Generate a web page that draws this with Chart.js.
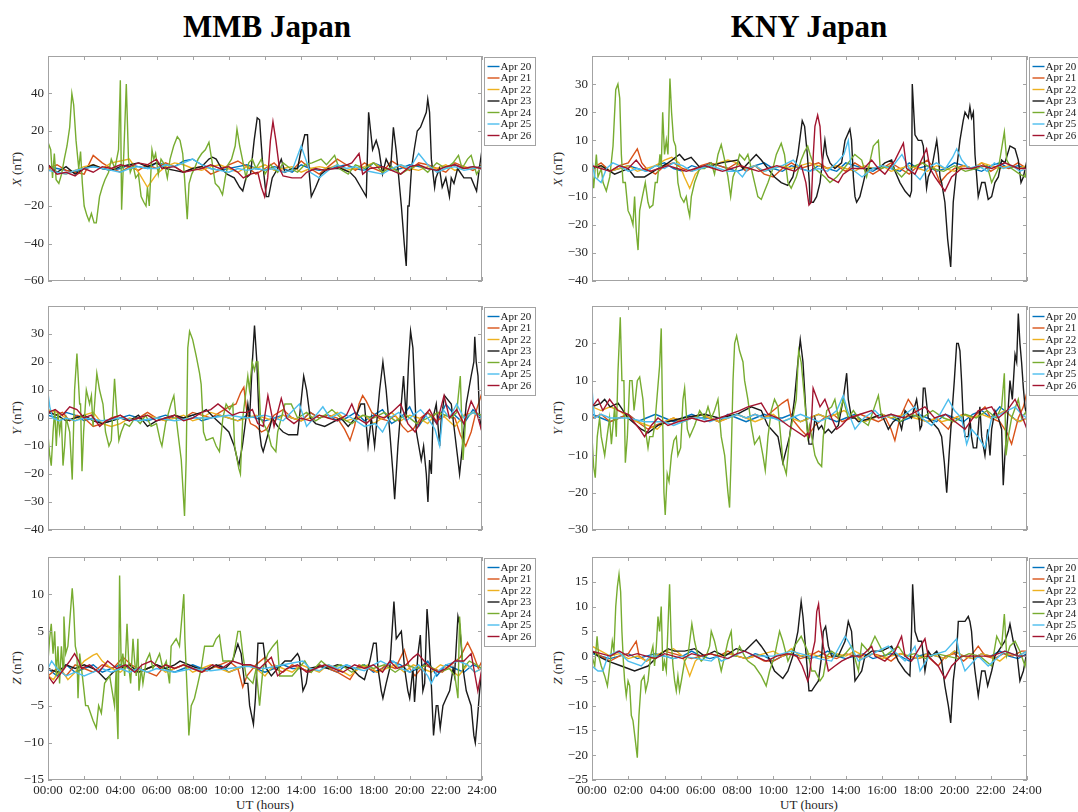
<!DOCTYPE html>
<html>
<head>
<meta charset="utf-8">
<script src="https://cdn.jsdelivr.net/npm/chart.js@4.4.1/dist/chart.umd.min.js"></script>
<style>
  html, body { margin: 0; padding: 0; background: #fff; }
  body { width: 1078px; height: 812px; position: relative; overflow: hidden;
         font-family: "Liberation Serif", "Times New Roman", serif; color: #000; }
  canvas.panel { position: absolute; }
  .title { position: absolute; top: 9px; width: 400px; text-align: center;
           font-size: 31px; font-weight: bold; line-height: 36px; }
  .ylab { position: absolute; font-size: 13px; white-space: nowrap; color: #262626;
          transform: translate(-50%, -50%) rotate(-90deg); }
  .xlab { position: absolute; font-size: 13px; white-space: nowrap; color: #262626;
          transform: translate(-50%, -50%); }
</style>
</head>
<body>
<div class="title" style="left:67px">MMB Japan</div>
<div class="title" style="left:609px">KNY Japan</div>

<div class="ylab" style="left:17px;top:169px"><i>X</i> (nT)</div>
<div class="ylab" style="left:17px;top:418px"><i>Y</i> (nT)</div>
<div class="ylab" style="left:17px;top:668px"><i>Z</i> (nT)</div>
<div class="ylab" style="left:558px;top:169px"><i>X</i> (nT)</div>
<div class="ylab" style="left:558px;top:418px"><i>Y</i> (nT)</div>
<div class="ylab" style="left:558px;top:668px"><i>Z</i> (nT)</div>
<div class="xlab" style="left:265px;top:805px">UT (hours)</div>
<div class="xlab" style="left:809px;top:805px">UT (hours)</div>

<canvas class="panel" id="mmbX" width="540" height="237" style="left:0;top:48px"></canvas>
<canvas class="panel" id="mmbY" width="540" height="236" style="left:0;top:298px"></canvas>
<canvas class="panel" id="mmbZ" width="540" height="263" style="left:0;top:549px"></canvas>
<canvas class="panel" id="knyX" width="538" height="237" style="left:540px;top:48px"></canvas>
<canvas class="panel" id="knyY" width="538" height="236" style="left:540px;top:298px"></canvas>
<canvas class="panel" id="knyZ" width="538" height="263" style="left:540px;top:549px"></canvas>

<script>
// ---- series: plain arrays are half-hourly samples 00:00..24:00, pairs are [UT hour, nT] ----
const dayLabels = ['Apr 20', 'Apr 21', 'Apr 22', 'Apr 23', 'Apr 24', 'Apr 25', 'Apr 26'];
const dayColors = ['#0072BD', '#D95319', '#EDB120', '#1a1a1a', '#77AC30', '#4DBEEE', '#A2142F'];
const hourTicks = [0, 2, 4, 6, 8, 10, 12, 14, 16, 18, 20, 22, 24];

// MMB X
const mmbX20 = [1,0,-1,-2,0,1,0,-1,0,2,1,0,3,2,1,4,5,2,0,-1,0,1,2,0,-1,1,0,-2,2,0,-1,0,1,2,0,-1,3,1,-1,0,2,1,0,-1,1,2,0,1,0];
const mmbX21 = [0,2,-1,-2,-3,7,3,0,-2,1,-1,2,0,3,1,-2,0,1,-3,-1,2,4,1,-3,0,3,-2,-1,4,0,-3,1,5,2,-1,3,0,-2,4,1,-1,3,2,0,-2,3,1,-1,2];
const mmbX22 = [0,-2,-3,-1,1,2,0,3,4,5,-2,-10,-3,1,3,2,0,-1,1,2,0,-2,1,0,2,-1,0,1,-2,0,1,0,2,-1,0,1,3,0,-1,2,0,-1,1,0,2,-1,1,0,1];
const mmbX23 = [[0,2],[0.5,-2],[1.0,1],[1.5,-3],[2.0,0],[2.5,2],[3.0,0],[3.5,-1],[4.0,1],[4.5,2],[5.0,3],[5.5,1],[6.0,3],[6.5,0],[7.0,-1],[7.5,-2],[8.0,0],[8.5,1],[8.9,5],[9.1,6],[9.3,5],[9.6,0],[9.9,-3],[10.3,-5],[10.6,-10],[10.77,-12],[10.95,-5],[11.2,-3],[11.4,15],[11.57,27],[11.7,26],[11.85,5],[12.07,-15],[12.2,-15],[12.4,-5],[12.7,0],[12.9,5],[13.1,-2],[13.5,0],[13.8,0],[14.0,10],[14.2,18],[14.35,18],[14.45,-3],[14.56,-15],[14.8,-10],[15.1,-3],[15.5,0],[16.2,0],[16.7,-2],[17.0,-5],[17.3,-10],[17.6,-15],[17.73,30],[17.95,10],[18.15,15],[18.3,10],[18.5,-3],[18.7,5],[18.95,0],[19.1,22],[19.25,10],[19.35,0],[19.54,-20],[19.7,-40],[19.81,-52],[19.9,-20],[19.97,-20],[20.1,0],[20.25,10],[20.42,20],[20.6,22],[20.92,30],[21.0,37],[21.1,30],[21.2,5],[21.38,-10],[21.45,-5],[21.65,0],[21.8,-10],[22.0,-5],[22.2,-15],[22.3,-5],[22.45,-8],[22.65,0],[23.0,-5],[23.4,-5],[23.7,-12],[23.85,0],[24,10]];
const mmbX24 = [[0,14],[0.15,10],[0.25,-5],[0.35,8],[0.45,-6],[0.6,-8],[0.75,-3],[0.9,5],[1.05,12],[1.2,22],[1.32,40],[1.42,34],[1.55,15],[1.7,0],[1.8,9],[1.9,-8],[2.0,-20],[2.15,-25],[2.27,-28],[2.4,-24],[2.55,-29],[2.67,-29],[2.85,-15],[3.0,-10],[3.15,-6],[3.35,-2],[3.5,5],[3.7,0],[3.9,10],[4.0,47],[4.07,-22],[4.2,10],[4.33,45],[4.45,5],[4.55,-2],[4.7,2],[4.85,-5],[5.0,-3],[5.15,-15],[5.3,-18],[5.42,-20],[5.5,-10],[5.6,-20],[5.75,10],[5.85,5],[5.95,8],[6.1,-3],[6.25,5],[6.45,2],[6.6,-5],[6.75,5],[6.95,12],[7.15,17],[7.3,15],[7.45,8],[7.55,-5],[7.7,-27],[7.8,-8],[7.95,-3],[8.1,0],[8.3,5],[8.5,8],[8.7,10],[8.9,14],[9.05,5],[9.25,-8],[9.45,-10],[9.65,-14],[9.8,-5],[9.95,2],[10.15,5],[10.35,12],[10.45,21],[10.6,12],[10.75,5],[10.95,-5],[11.1,3],[11.3,5],[11.5,0],[11.8,5],[12.0,-3],[12.3,2],[12.7,-2],[13.0,3],[13.4,0],[13.8,-2],[14.2,2],[14.6,3],[15.1,5],[15.4,2],[15.85,7],[16.1,0],[16.6,-3],[17.0,2],[17.5,0],[18.0,3],[18.5,-2],[19.0,1],[19.5,-3],[20.0,0],[20.5,2],[21.0,-2],[21.5,3],[22.0,0],[22.4,3],[22.7,7],[22.9,0],[23.2,5],[23.4,7],[23.7,-3],[24,2]];
const mmbX25 = [-1,-2,-3,-1,0,1,0,-1,-2,0,1,0,0,2,1,3,5,2,0,-1,-2,0,-1,0,-1,0,-2,-1,12,-2,-5,-1,2,0,1,-1,-2,-3,0,2,0,8,2,-2,0,1,-1,0,1];
const mmbX26 = [[0,2],[0.5,-3],[1.0,-2],[1.5,-4],[2.0,0],[2.5,-2],[3.0,1],[3.5,0],[4.0,2],[4.5,1],[5.0,3],[5.5,2],[6.0,5],[6.3,0],[7.0,1],[7.5,-2],[8.0,-1],[8.5,0],[9.0,2],[9.5,0],[10.0,1],[10.5,-2],[10.8,-5],[11.2,-3],[11.6,-2],[11.8,-10],[11.98,-15],[12.15,-5],[12.3,15],[12.44,25],[12.6,15],[12.8,0],[13.0,-4],[13.5,-5],[14.0,-5],[14.3,-2],[14.8,0],[15.3,-1],[15.8,0],[16.3,1],[16.8,3],[17.2,8],[17.4,-3],[17.8,0],[18.5,1],[19.0,-1],[19.5,-3],[20.0,1],[20.5,2],[21.0,0],[21.5,-1],[22.0,1],[22.5,2],[23.0,0],[23.5,1],[24,0]];

// MMB Y
const mmbY20 = [1,0,2,1,-1,0,-2,-1,0,1,0,-1,0,1,0,0,1,-1,0,1,0,-1,1,0,-1,0,1,0,-1,2,0,1,-1,0,2,-1,1,3,-2,0,4,-3,2,-2,5,1,-2,3,0];
const mmbY21 = [[0,3],[0.4,1],[0.8,2],[1.2,-1],[1.6,1],[2.0,0],[2.5,-3],[3.0,-2],[3.5,0],[4.0,1],[4.5,-1],[5.0,0],[5.5,2],[6.0,0],[6.5,-1],[7.0,1],[7.5,0],[8.0,2],[8.5,1],[9.0,0],[9.5,2],[10.0,4],[10.4,5],[10.65,9],[10.83,11],[11.0,2],[11.2,-2],[11.5,-3],[11.8,-5],[12.1,-4],[12.5,1],[13.0,3],[13.5,0],[14.0,-1],[14.5,2],[15.0,0],[15.5,1],[16.0,0],[16.4,-4],[16.7,-8],[16.95,-3],[17.2,5],[17.4,8],[17.6,6],[17.9,2],[18.3,0],[18.8,-1],[19.2,1],[19.6,-3],[19.9,-5],[20.2,-4],[20.6,0],[21.0,2],[21.5,-1],[22.0,1],[22.5,0],[22.8,-6],[23.1,-10],[23.4,-5],[23.7,3],[24,9]];
const mmbY22 = [3,2,0,-1,1,2,-2,-3,-2,0,-1,1,0,-1,0,1,-1,0,2,1,0,-1,0,1,0,-1,1,0,-1,0,1,0,2,-1,0,1,-2,0,2,-1,1,0,-2,2,0,-3,1,2,0];
const mmbY23 = [[0,2],[0.5,1],[1.0,-1],[1.5,0],[2.0,1],[2.5,-1],[3.0,-2],[3.5,-1],[4.0,0],[4.5,-1],[5.0,1],[5.5,-3],[6.0,-1],[6.5,0],[7.0,1],[7.5,0],[8.0,1],[8.5,2],[8.75,3],[9.2,0],[9.7,-3],[10.0,-5],[10.3,-10],[10.55,-17],[10.75,-10],[11.05,5],[11.15,0],[11.3,20],[11.42,33],[11.55,20],[11.7,-5],[11.8,-10],[11.9,-12],[12.2,-5],[12.4,0],[12.7,-3],[13.0,-5],[13.3,-6],[13.8,-6],[13.9,0],[14.14,15],[14.3,10],[14.5,0],[14.8,-2],[15.3,-3],[16.2,0],[16.6,-3],[17.0,0],[17.3,5],[17.5,5],[17.7,-10],[17.88,0],[18.06,-10],[18.34,10],[18.52,20],[18.7,10],[18.9,-5],[19.08,-20],[19.17,-29],[19.35,-10],[19.66,15],[19.81,0],[19.94,20],[20.05,31],[20.18,25],[20.37,-5],[20.64,-15],[20.77,-10],[20.92,-20],[21.01,-30],[21.1,-15],[21.2,-20],[21.29,0],[21.47,5],[21.66,-10],[21.75,0],[21.93,8],[22.3,5],[22.67,-15],[22.76,-20],[22.95,-8],[23.13,5],[23.4,15],[23.55,20],[23.6,29],[23.68,20],[23.78,15],[23.87,0],[24,-5]];
const mmbY24 = [[0,-6],[0.09,-13],[0.18,-17],[0.28,-5],[0.37,3],[0.46,-10],[0.55,2],[0.64,-5],[0.74,0],[0.83,-17],[0.92,-10],[1.01,0],[1.2,-5],[1.34,-22],[1.47,10],[1.6,23],[1.75,5],[1.8,5],[1.88,-19],[1.97,-5],[2.12,10],[2.3,5],[2.4,8],[2.49,-3],[2.7,16],[2.85,10],[3.04,5],[3.18,-5],[3.37,-10],[3.5,-8],[3.68,14],[3.77,5],[3.92,-8],[4.05,-5],[4.24,-2],[4.5,-3],[4.8,0],[5.1,-2],[5.4,1],[5.7,-3],[6.0,-2],[6.2,-8],[6.3,-10],[6.5,-2],[6.8,5],[6.96,8],[7.09,0],[7.18,-5],[7.37,-15],[7.46,-25],[7.55,-35],[7.64,-15],[7.73,25],[7.83,31],[8.0,28],[8.2,22],[8.38,16],[8.47,12],[8.6,-5],[8.75,-8],[9.12,-7],[9.3,-10],[9.48,-12],[9.67,0],[9.85,5],[10.04,3],[10.22,5],[10.32,-10],[10.55,-18],[10.64,-20],[10.77,0],[11.05,15],[11.14,10],[11.29,20],[11.42,17],[11.51,20],[11.61,20],[11.75,0],[12.16,-5],[12.35,-10],[12.6,-12],[12.7,-5],[13.1,5],[13.45,5],[13.8,0],[14.3,2],[14.8,-1],[15.3,1],[15.7,3],[16.2,0],[16.8,-2],[17.4,1],[18.0,0],[18.6,2],[19.2,-1],[19.8,1],[20.4,-2],[21.0,0],[21.6,2],[22.3,0],[22.6,2],[22.8,15],[22.95,-15],[23.1,0],[23.5,2],[24,1]];
const mmbY25 = [[0,9],[0.1,4],[0.25,0],[0.6,-1],[1.0,0],[1.5,-1],[2.0,0],[3.0,-1],[4.0,0],[5.0,-1],[6.0,0],[7.0,-1],[8.0,0],[9.0,0],[10.0,1],[11.0,0],[12.0,1],[12.5,0],[13.0,-1],[13.6,3],[13.9,5],[14.3,-3],[14.7,0],[15.2,4],[15.6,0],[16.2,2],[16.8,0],[17.5,-3],[18.1,-2],[18.5,-5],[18.9,0],[19.4,2],[19.8,-1],[20.6,3],[21.0,0],[21.4,-4],[21.66,-10],[21.85,3],[22.2,0],[22.6,5],[23.0,0],[23.5,2],[24,0]];
const mmbY26 = [[0,2],[0.4,3],[0.8,1],[1.2,4],[1.6,3],[2.0,0],[2.4,1],[2.86,-3],[3.2,-1],[3.6,0],[4.0,1],[4.5,-1],[5.0,0],[5.5,1],[6.0,-1],[6.5,0],[7.0,1],[7.5,-1],[8.0,0],[8.5,2],[9.0,3],[9.4,5],[9.8,3],[10.2,1],[10.6,2],[11.0,2],[11.3,3],[11.6,-2],[11.9,-3],[12.16,8],[12.5,-3],[12.9,7],[13.2,0],[13.6,-2],[14.0,0],[14.5,-1],[15.0,1],[15.5,0],[16.0,-1],[16.5,1],[16.8,5],[17.1,0],[17.6,-2],[18.1,1],[18.6,0],[19.0,2],[19.5,5],[19.9,-2],[20.3,-5],[20.7,0],[21.1,3],[21.5,-2],[21.9,8],[22.2,0],[22.6,3],[23.0,-2],[23.4,6],[23.7,2],[24,-5]];

// MMB Z
const mmbZ20 = [0,-1,0.5,-0.5,0,0.5,-0.5,0,0.5,0,-0.5,0,0.5,0,-0.5,0,0.5,0,0,0.5,-0.5,0,0.5,0,-0.5,0,0.5,0,0,-0.5,0.5,0,-0.5,0.5,0,0.5,-0.5,0,1,0.5,-0.5,0,1,-1,0.5,0,-0.5,0.5,0];
const mmbZ21 = [[0,-1],[0.5,0],[1.0,-1],[1.5,0.5],[2.0,0],[2.5,-0.5],[3.0,0.5],[3.6,0],[4.15,1.5],[4.6,0.5],[5.0,0],[5.5,-0.5],[6.0,-1],[6.5,0.5],[7.0,0],[7.5,0.5],[8.0,0],[8.5,-0.5],[9.0,0],[9.5,0.5],[10.0,1],[10.5,0],[10.77,-2.5],[11.0,-1],[11.5,0.5],[12.0,1.5],[12.5,0],[13.0,-0.5],[13.5,0.5],[14.0,0],[14.5,-0.5],[15.0,0.5],[15.5,0],[16.0,-0.5],[16.7,-1.5],[17.2,0.5],[17.7,0],[18.2,-0.5],[18.7,0.5],[19.2,0],[19.7,2.5],[20.0,0],[20.3,-1],[20.8,0.5],[21.3,0],[21.8,-0.5],[22.3,0.5],[22.8,1.5],[23.2,3.5],[23.5,2],[23.8,0],[24,1]];
const mmbZ22 = [[0,-1],[0.3,-1.5],[0.7,0],[1.1,-1.5],[1.5,-0.5],[2.0,1],[2.5,1.8],[2.7,2],[3.0,1],[3.5,0],[4.0,-0.5],[4.5,0.5],[5.0,-0.5],[5.5,0],[6.0,0.5],[6.5,-0.5],[7.0,0],[7.5,0.5],[8.0,-0.5],[8.5,0],[9.0,0.5],[9.5,0],[10.0,-0.5],[10.5,0],[11.0,0.5],[11.5,0],[12.0,-1],[12.5,0.5],[13.0,0],[13.5,-0.5],[14.0,0.5],[14.5,0],[15.0,-0.5],[15.5,0.5],[16.0,0],[16.7,-1],[17.2,0],[17.7,0.5],[18.2,-0.5],[18.7,0],[19.2,0.5],[19.7,-0.5],[20.2,0.5],[20.7,0],[21.2,-0.5],[21.7,0.5],[22.2,0],[22.7,-1],[23.2,0.5],[23.6,-0.5],[24,0]];
const mmbZ23 = [[0,0],[0.5,-0.5],[1.0,0.5],[1.5,0],[2.0,0.5],[2.5,0],[2.8,-0.5],[3.2,-1.5],[3.6,-0.5],[4.0,0],[4.5,0.5],[5.0,-0.5],[5.5,0],[6.0,0.5],[6.5,0],[7.0,0.5],[7.3,1],[7.8,0.5],[8.3,0],[8.8,-0.3],[9.3,0.5],[9.8,0],[10.2,1],[10.5,3.3],[10.68,2],[10.87,-2],[11.05,-2],[11.15,-5],[11.36,-7.5],[11.47,-4],[11.61,3.4],[11.9,3.4],[12.07,0],[12.35,-1],[12.7,0],[13.1,1],[13.45,1],[13.8,2],[13.9,1.5],[14.1,-3],[14.28,-2],[14.4,0],[15.0,0.3],[15.5,0],[16.0,0.5],[16.8,0],[17.2,-1],[17.5,-1.5],[17.8,1],[18.0,3.4],[18.15,3.4],[18.25,0],[18.43,-3],[18.52,-4],[18.7,-2],[18.9,0],[19.13,9],[19.26,4],[19.54,5],[19.72,0],[19.9,-3],[20.0,-4],[20.18,0],[20.27,-4.5],[20.46,2],[20.59,4.5],[20.73,-3],[20.83,-2],[20.96,8],[21.05,5],[21.16,0],[21.32,-9],[21.47,-5],[21.56,-5],[21.69,-8],[21.84,-5],[22.02,-4],[22.21,-3],[22.4,0],[22.48,-1],[22.67,7],[22.76,6],[22.95,0],[23.13,-3],[23.4,-5],[23.55,-9],[23.63,-10],[23.74,-7],[23.87,-3],[24,0]];
const mmbZ24 = [[0,1],[0.09,4],[0.18,6],[0.28,2],[0.37,5],[0.46,-1],[0.55,3],[0.64,-2],[0.74,3],[0.83,0],[0.88,7],[0.98,2],[1.1,3],[1.34,10.8],[1.42,8],[1.51,3],[1.6,2],[1.66,-4],[1.75,2],[1.9,-1],[2.08,-5],[2.21,-5],[2.49,-7],[2.67,-8],[2.8,-5],[2.95,-6],[3.13,-2],[3.41,-1],[3.68,-5],[3.77,0],[3.81,-6],[3.87,-9.5],[3.96,12.5],[4.05,0],[4.14,2],[4.24,-1],[4.37,6],[4.48,0],[4.57,-2],[4.7,4],[4.79,1],[4.88,-1],[4.97,4],[5.03,-3],[5.16,0],[5.25,-2],[5.43,1],[5.62,2],[5.8,0],[6.17,2],[6.35,0],[6.54,1],[6.72,-2],[6.81,3],[7.09,4],[7.27,3],[7.51,10],[7.57,4],[7.64,0],[7.73,-5],[7.79,-9],[7.92,-5],[8.1,-4],[8.29,-2],[8.47,0],[8.66,3],[8.84,3],[9.12,3],[9.3,4],[9.48,4.5],[9.67,1],[9.85,1],[10.22,1],[10.5,5],[10.63,5],[10.77,2],[10.95,-1],[11.33,-2],[11.51,0],[11.7,-5],[11.89,0],[12.16,2],[12.44,3],[12.68,3.7],[12.81,-1],[13.27,-1],[13.5,-1],[14.2,1],[14.56,-0.5],[15.11,1],[15.6,0],[16.2,0.5],[16.8,-0.5],[17.4,0.5],[18.0,0],[18.6,0.5],[19.2,-0.5],[19.8,0.5],[20.4,0],[21.0,0.5],[21.6,-0.5],[22.2,0],[22.5,-1],[22.67,-4],[22.76,7],[22.95,0],[23.3,1],[23.7,0.5],[24,0]];
const mmbZ25 = [[0,0],[0.2,1],[0.5,0],[1.0,-1],[1.5,-0.5],[2.0,-1],[2.5,-0.5],[3.0,0],[3.5,-0.5],[4.0,0],[4.5,-0.5],[5.0,0],[5.5,-0.5],[6.0,0],[7.0,-0.5],[8.0,0],[9.0,-0.3],[10.0,0],[11.0,0.3],[12.0,0],[13.0,0.5],[14.1,1],[14.5,0],[15.0,-0.3],[15.5,0.5],[16.0,0],[16.5,0.5],[17.0,0],[17.5,-0.3],[18.0,0.5],[18.4,1],[18.8,0.5],[19.1,1],[19.5,0],[20.0,-0.5],[20.5,0.5],[21.0,-1],[21.2,-2],[21.5,-0.5],[22.0,0.5],[22.7,1],[23.2,0.5],[23.6,-0.5],[24,0]];
const mmbZ26 = [[0,-1],[0.3,-2],[0.6,-1],[0.9,0],[1.2,1],[1.47,2],[1.7,1],[1.85,0],[2.3,0.5],[2.8,-0.5],[3.3,1],[3.8,0],[4.3,0.5],[4.8,-0.5],[5.2,0.5],[5.7,1],[6.2,0],[6.5,0.5],[7.0,0],[7.5,0.5],[8.0,0],[8.5,-0.5],[9.1,0.5],[9.6,0],[10.2,1],[10.8,0.5],[11.2,0.5],[11.7,0],[12.35,1.5],[12.7,-1],[13.2,0],[13.8,0.5],[14.3,-0.5],[14.8,0],[15.3,0.5],[15.8,0],[16.3,-0.5],[16.95,0.5],[17.5,0],[18.0,0.5],[18.5,-0.5],[18.9,1],[19.3,0],[19.8,0.5],[20.2,1.5],[20.45,2],[20.8,1],[21.2,0],[21.6,-0.5],[22.0,0],[22.5,1],[23.0,1],[23.4,2],[23.77,-3],[24,0]];

// KNY X
const knyX20 = [0,1,-1,0,1,0,-1,1,2,0,-1,1,0,2,1,0,-1,0,1,2,0,-1,1,0,-1,1,0,-1,2,1,0,-1,1,0,-1,2,0,1,-1,0,2,1,0,-1,1,2,0,1,0];
const knyX21 = [[0,0],[0.5,2],[1.0,-1],[1.5,1],[2.0,2],[2.5,7],[2.75,2],[3.0,0],[3.5,-2],[4.0,1],[4.5,2],[5.0,0],[5.5,-1],[6.0,1],[6.5,2],[7.0,1],[7.5,0],[8.0,2],[8.5,-1],[9.0,1],[9.5,-2],[10.0,-3],[10.5,0],[11.0,2],[11.5,0],[12.0,1],[12.5,2],[13.0,0],[13.5,1],[14.0,-1],[14.5,2],[15.0,0],[15.5,-2],[16.0,0],[16.5,2],[17.0,0],[17.5,-2],[18.0,1],[18.5,3],[18.9,0],[19.2,-5],[19.6,-2],[20.0,0],[20.5,1],[21.0,0],[21.5,2],[22.0,-1],[22.5,1],[23.0,0],[23.5,2],[24,0]];
const knyX22 = [[0,0],[0.5,1],[1.0,-1],[1.5,0],[2.0,1],[2.5,-1],[3.0,0],[3.5,1],[4.0,3],[4.4,4],[4.8,2],[5.1,-3],[5.39,-7],[5.7,-2],[6.0,0],[6.5,1],[7.0,2],[7.5,3],[8.0,2],[8.5,0],[9.0,1],[9.5,-1],[10.0,0],[10.5,1],[11.0,0],[11.5,1],[12.0,2],[12.5,1],[13.0,0],[13.5,1],[14.0,0],[14.5,-1],[15.0,1],[15.5,0],[16.0,1],[16.5,-1],[17.0,0],[17.5,1],[18.0,0],[18.5,-1],[19.0,1],[19.5,0],[20.0,-1],[20.5,1],[21.0,0],[21.5,2],[22.0,1],[22.5,0],[23.0,1],[23.5,0],[24,1]];
const knyX23 = [[0,0],[0.5,1],[1.0,-1],[1.25,-2],[1.99,0],[2.35,-3],[2.9,-3],[3.65,0],[4.2,2],[4.83,5],[5.1,3],[5.47,4],[6.0,0],[6.6,1],[7.13,2],[8.05,3],[8.33,0],[9.06,5],[9.34,3],[9.7,0],[10.07,-3],[10.44,-5],[10.8,-6],[11.08,-3],[11.36,5],[11.6,17],[11.73,15],[11.88,5],[11.99,-5],[12.03,-12],[12.21,-12],[12.39,-10],[12.58,-5],[12.76,5],[12.85,10],[12.95,5],[13.13,2],[13.4,0],[13.77,2],[13.96,10],[14.23,14],[14.32,10],[14.42,-3],[14.51,-10],[14.6,-12],[14.78,-10],[14.97,-5],[15.15,0],[15.43,0],[15.8,0],[16.16,2],[16.53,3],[16.72,-1],[16.99,-5],[17.27,-8],[17.54,-10],[17.63,-8],[17.67,30],[17.82,12],[18.0,10],[18.19,10],[18.28,8],[18.37,0],[18.46,-7],[18.55,-3],[18.74,0],[19.02,10],[19.11,5],[19.2,-3],[19.29,-5],[19.47,-12],[19.62,-25],[19.79,-35],[19.93,-12],[20.12,0],[20.3,10],[20.48,17],[20.58,20],[20.76,18],[20.85,22],[20.94,18],[21.04,20],[21.13,5],[21.31,-10],[21.5,-5],[21.68,-5],[21.86,-11],[22.05,-10],[22.23,-5],[22.42,-3],[22.6,3],[22.78,2],[23.06,8],[23.34,7],[23.52,3],[23.67,-5],[23.8,-3],[24,3]];
const knyX24 = [[0,0],[0.09,-7],[0.24,5],[0.33,-3],[0.51,0],[0.61,-5],[0.79,-8],[0.98,-3],[1.16,8],[1.31,28],[1.43,30],[1.53,25],[1.62,5],[1.71,-5],[1.84,-5],[1.99,-15],[2.13,-17],[2.26,-20],[2.35,-10],[2.44,-22],[2.54,-29],[2.63,-15],[2.78,-10],[2.94,-5],[3.09,-12],[3.18,-14],[3.36,-13],[3.49,-5],[3.6,-5],[3.75,5],[3.82,0],[3.9,20],[4.0,5],[4.1,10],[4.19,5],[4.3,32],[4.39,20],[4.5,10],[4.61,8],[4.74,-5],[4.89,-10],[5.07,-12],[5.2,-10],[5.29,-14],[5.39,-17],[5.48,-10],[5.66,-5],[5.94,0],[6.21,0],[6.58,2],[6.76,-2],[6.95,5],[7.13,8.5],[7.32,3],[7.5,-3],[7.65,-10],[7.78,-3],[7.96,0],[8.14,5],[8.42,3],[8.6,5],[8.79,0],[8.97,-5],[9.15,-10],[9.34,-11],[9.52,-8],[9.71,-5],[9.98,0],[10.17,5],[10.44,9],[10.62,5],[10.81,-5],[10.99,-7],[11.27,-3],[11.54,3],[11.73,6],[11.9,8],[12.03,5],[12.3,0],[12.85,-3],[13.13,-5],[13.5,-3],[13.9,0],[14.5,5],[14.88,3],[15.15,-3],[15.52,8],[15.8,10],[15.9,0],[16.5,1],[17.08,-3],[17.5,0],[18.2,2],[18.8,0],[19.4,-1],[20.0,1],[20.6,-1],[21.2,0],[21.8,1],[22.05,-5],[22.42,0],[22.75,13],[22.88,3],[23.15,0],[23.6,-2],[23.9,-3],[24,0]];
const knyX25 = [[0,3],[0.15,-3],[0.5,-5],[0.8,0],[1.15,2],[1.5,1],[2.0,-1],[2.5,0],[3.0,-1],[3.5,1],[4.0,0],[4.5,2],[5.0,1],[5.5,-1],[6.0,0],[6.5,1],[7.0,0],[7.5,-1],[8.0,-1],[8.3,-3],[8.6,0],[9.0,1],[9.5,-1],[10.0,0],[10.5,1],[11.1,3],[11.5,0],[12.0,-1],[12.5,0],[13.0,-1],[13.5,2],[13.9,5],[14.14,10],[14.3,0],[14.9,-3],[15.5,0],[16.0,1],[16.5,0],[17.1,5],[17.5,0],[18.1,-4],[18.5,0],[19.0,2],[19.5,0],[19.9,4],[20.12,7],[20.4,3],[20.8,0],[21.3,1],[21.8,-1],[22.2,2],[22.7,0],[23.2,1],[23.6,-1],[24,0]];
const knyX26 = [[0,1],[0.5,0],[1.0,-1],[1.5,1],[2.0,0],[2.44,3],[2.8,0],[3.2,-1],[3.7,0],[4.2,1],[4.7,0],[5.2,-1],[5.7,0],[6.2,1],[6.7,0],[7.2,-1],[7.7,0],[8.2,1],[8.7,0],[9.2,-1],[9.7,0],[10.2,1],[10.7,0],[11.2,-1],[11.55,1],[11.8,-5],[11.97,-13],[12.1,-12],[12.21,5],[12.3,15],[12.45,19],[12.58,15],[12.67,5],[12.76,0],[13.04,-3],[13.59,-5],[13.86,-2],[14.32,0],[15.0,0],[15.43,3],[15.8,0],[16.16,-2],[16.72,3],[17.18,9],[17.36,0],[17.82,-2],[18.46,7],[18.65,0],[18.92,-3],[19.47,-8],[19.84,-3],[20.39,0],[20.94,0],[21.5,1],[22.05,0],[22.78,2],[23.52,0],[24,0]];

// KNY Y
const knyY20 = [1,0,-1,0,1,-1,0,1,0,-1,0,1,0,0,-1,1,0,-1,0,1,0,0,1,-1,0,1,0,-1,0,1,-1,0,1,0,-1,0,1,0,-1,1,0,-1,1,2,0,3,1,-1,0];
const knyY21 = [[0,0],[0.5,1],[1.0,-1],[1.5,0],[2.0,1],[2.5,-1],[3.09,-3],[3.5,-2],[4.0,-1],[4.5,0],[5.0,-1],[5.5,0],[6.0,1],[6.5,0],[7.0,-1],[7.5,0],[8.0,1],[8.5,0],[9.0,1],[9.5,0],[10.0,2],[10.5,4],[10.8,5],[11.0,0],[11.5,-3],[11.9,-5],[12.3,-2],[12.8,0],[13.3,1],[13.8,-1],[14.3,0],[14.8,1],[15.3,0],[15.8,-1],[16.2,0],[16.5,-3],[16.71,-6],[16.99,0],[17.45,5],[17.73,3],[18.0,0],[18.5,-1],[19.0,0],[19.66,-3],[20.0,0],[20.5,1],[21.0,0],[21.68,3],[22.0,0],[22.5,-1],[22.9,-4],[23.15,-7],[23.52,0],[23.8,3],[24,7]];
const knyY22 = [[0,3],[0.5,2],[1.0,3],[1.5,2],[2.0,0],[2.5,-1],[3.09,-2],[3.6,-3],[4.0,-1],[4.5,0],[5.0,-1],[5.5,0],[6.0,1],[6.5,0],[7.0,-1],[7.5,0],[8.0,1],[8.5,0],[9.0,-1],[9.5,0],[10.0,1],[10.5,-1],[11.0,0],[11.5,-1],[12.0,0],[12.5,1],[13.0,0],[13.9,2],[14.5,0],[15.0,-1],[15.5,0],[16.0,1],[16.5,0],[17.27,1],[17.8,0],[18.5,-1],[19.0,0],[19.3,-1],[20.0,0],[20.5,1],[21.0,0],[21.5,1],[22.0,0],[22.78,2],[23.2,0],[23.6,-1],[24,0]];
const knyY23 = [[0,3],[0.5,4],[0.7,5],[1.0,3],[1.44,4],[1.99,0],[2.72,-3],[3.09,-4],[3.64,-2],[4.19,-1],[5.0,0],[6.21,1],[7.0,0],[8.0,1],[8.79,3],[9.34,2],[9.7,-2],[10.26,-5],[10.53,-12],[10.9,-5],[11.17,5],[11.36,15],[11.49,21],[11.64,15],[11.82,0],[11.97,-7],[12.15,-7],[12.3,0],[12.5,-3],[12.67,-2],[12.85,-4],[13.04,-3],[13.22,-4],[13.4,-3],[13.59,-2],[13.86,5],[14.05,12],[14.14,5],[14.32,0],[14.51,0],[14.7,-1],[15.43,0],[15.98,1],[16.35,-3],[16.62,-1],[16.9,0],[17.08,-3],[17.27,2],[17.63,0],[17.91,5],[18.0,2],[18.1,-3],[18.19,-2],[18.28,8],[18.37,8],[18.55,0],[18.74,-1],[19.11,-3],[19.29,-5],[19.44,-12],[19.57,-20],[19.7,-10],[19.84,0],[19.99,10],[20.12,20],[20.21,20],[20.3,18],[20.39,10],[20.48,0],[20.58,-5],[20.76,-5],[20.85,0],[20.94,-5],[21.04,-8],[21.22,-8],[21.31,-3],[21.4,3],[21.5,-5],[21.68,-10],[21.83,-3],[21.96,-10],[22.05,-3],[22.23,2],[22.42,0],[22.6,-3],[22.69,-18],[22.78,-10],[22.93,0],[23.06,10],[23.19,5],[23.34,17],[23.43,15],[23.52,28],[23.61,20],[23.7,15],[23.8,8],[23.89,3],[24,0]];
const knyY24 = [[0,-5],[0.09,-13],[0.18,-16],[0.29,-5],[0.42,0],[0.51,-5],[0.7,-10],[0.83,-5],[0.97,0],[1.07,-7],[1.25,3],[1.34,-5],[1.43,12],[1.56,27],[1.65,10],[1.76,10],[1.84,-12],[1.95,-5],[2.08,10],[2.21,10],[2.32,2],[2.39,5],[2.5,10],[2.63,11],[2.81,5],[2.9,-2],[3.0,-5],[3.09,-8],[3.18,-5],[3.36,-5],[3.46,-2],[3.73,14],[3.82,24],[3.88,5],[3.97,-20],[4.04,-26],[4.15,-15],[4.25,-17],[4.38,-10],[4.52,-6],[4.65,-5],[4.74,-10],[4.89,-8],[5.02,5],[5.11,8],[5.26,-3],[5.39,-5],[5.66,-2],[5.94,2],[6.21,0],[6.4,3],[6.58,0],[6.76,2],[6.95,5],[7.04,0],[7.13,-5],[7.32,-10],[7.5,-20],[7.59,-24],[7.68,-10],[7.78,10],[7.87,20],[7.98,22],[8.14,18],[8.33,15],[8.42,10],[8.6,5],[8.79,-2],[8.97,-7],[9.24,-5],[9.43,-10],[9.56,-14],[9.71,-5],[9.89,2],[10.07,5],[10.26,3],[10.41,-5],[10.54,-12],[10.72,-15],[10.9,-5],[11.08,0],[11.27,5],[11.4,18],[11.54,15],[11.73,5],[11.9,-5],[12.0,-2],[12.12,-5],[12.3,-10],[12.48,-12],[12.67,-13],[12.76,-5],[12.95,2],[13.22,3],[13.4,5],[13.59,0],[13.86,5],[14.14,0],[14.42,2],[14.7,0],[15.24,-2],[15.8,6],[15.98,0],[16.5,1],[17.0,-1],[17.6,1],[18.2,0],[18.8,2],[19.4,0],[20.0,-1],[20.6,1],[21.2,0],[21.8,2],[22.3,0],[22.6,3],[22.75,12],[22.84,-10],[22.97,-5],[23.15,0],[23.52,5],[23.7,0],[24,2]];
const knyY25 = [[0,8],[0.08,3],[0.15,0],[0.5,1],[1.0,0],[1.5,0],[2.0,0],[2.9,-1],[3.5,-1],[4.0,-1],[4.5,-2],[5.0,-1],[5.5,0],[6.0,0],[6.5,-1],[7.0,0],[7.5,0],[8.0,1],[8.5,0],[9.0,1],[9.5,0],[10.0,0],[10.5,-1],[11.0,0],[11.5,1],[12.0,0],[12.5,-1],[13.0,0],[13.5,2],[13.86,6],[14.1,2],[14.51,-3],[15.0,0],[15.61,2],[16.0,0],[16.5,1],[17.0,0],[17.82,3],[18.2,0],[18.74,-2],[19.2,1],[19.66,5],[20.0,2],[20.39,0],[20.67,-7],[20.94,-3],[21.3,-5],[21.68,-8],[22.05,0],[22.5,1],[23.34,3],[23.7,1],[24,0]];
const knyY26 = [[0,3],[0.33,5],[0.6,2],[0.97,5],[1.43,2],[1.99,1],[2.63,-3],[2.9,-5],[3.27,-2],[3.64,0],[4.19,-2],[4.74,-1],[5.5,0],[6.2,-1],[7.04,0],[8.14,2],[8.6,3],[9.34,4],[9.71,1],[10.26,0],[10.81,-2],[11.73,-5],[11.9,-4],[12.0,-5],[12.12,0],[12.2,8],[12.58,3],[12.85,5],[13.22,0],[13.5,-3],[13.77,-2],[14.14,0],[14.8,1],[15.43,2],[15.8,0],[16.5,1],[17.2,0],[18.37,3],[18.9,0],[19.5,1],[20.58,-3],[21.31,2],[22.05,3],[22.42,0],[22.9,2],[23.34,5],[23.61,2],[24,-3]];

// KNY Z
const knyZ20 = [0.5,0,-0.5,0,0.5,-0.5,0,0.5,0,-0.5,0,1,0,-0.5,0,0.5,0,-0.5,0.5,0,-1,0,0.5,0,-0.5,0,1,0,-0.5,0,0.5,-0.5,0,0.5,0,-1,0,0.5,0,-0.5,1,0,-0.5,0.5,0,1,0,-0.5,0.5];
const knyZ21 = [[0,1],[0.5,0],[1.0,-1],[1.5,0],[2.0,0.5],[2.44,3],[2.6,0],[3.0,-1],[3.5,0],[4.0,1],[4.5,0.5],[5.0,0],[5.5,-0.5],[6.0,0],[6.5,0.5],[7.0,0],[7.5,1],[8.0,0],[8.5,-0.5],[9.0,0],[9.5,-1],[10.0,-1],[10.5,0],[11.0,0.5],[11.5,-0.5],[12.0,0],[12.5,1],[13.0,0],[13.5,-0.5],[14.0,0.5],[14.5,0],[15.0,-0.5],[15.5,0.5],[16.0,0],[16.5,-1],[17.0,0.5],[17.5,0],[18.0,-0.5],[18.5,0],[19.1,-2],[19.5,0],[20.0,0.5],[20.5,-1],[21.0,0.5],[21.31,2],[21.7,0],[22.2,-0.5],[22.7,0.5],[23.2,0],[23.7,1],[24,1]];
const knyZ22 = [[0,2],[0.5,1],[1.0,0],[1.5,0.5],[2.0,-0.5],[2.5,0],[3.0,-1],[3.5,0],[4.0,1],[4.5,1.5],[5.0,0],[5.39,-4],[5.7,-1],[6.0,0],[6.5,0.5],[7.0,0],[7.5,0.5],[8.0,0],[8.5,-0.5],[9.0,0],[9.5,0.5],[10.0,1],[10.5,0],[11.0,1.5],[11.5,0],[12.0,0.5],[12.5,0],[13.0,-0.5],[13.5,0.5],[14.0,0],[14.5,1],[15.0,0],[15.5,0.5],[16.0,-0.5],[16.5,0],[17.0,0.5],[17.5,0],[18.0,-0.5],[18.5,0.5],[19.0,0],[19.5,-0.5],[20.0,1],[20.5,0],[21.0,-0.5],[21.5,0.5],[22.0,0],[22.5,-1],[23.0,0.5],[23.5,0],[24,1]];
const knyZ23 = [[0,1],[0.33,0],[0.88,-1],[1.62,-2],[2.35,-3],[3.09,-2],[3.64,0],[4.19,1.5],[4.56,1],[5.11,1],[5.66,1.5],[6.21,0],[6.76,1],[7.32,0],[7.96,1.5],[8.42,1],[9.06,3.3],[9.34,2],[9.71,0],[10.07,-3],[10.53,-4.5],[10.81,-3],[11.08,0],[11.36,5],[11.54,11],[11.64,8],[11.82,0],[11.97,-7],[12.12,-7],[12.3,-6],[12.49,-5],[12.67,0],[12.76,5],[12.89,6],[13.04,2],[13.22,0],[13.59,0],[13.96,3],[14.14,7],[14.32,5],[14.42,0],[14.51,-5],[14.7,-4],[14.88,-3],[15.06,0],[15.43,1],[15.98,1],[16.53,2],[16.9,-1],[17.27,-3],[17.54,-4],[17.63,5],[17.69,14.5],[17.82,5],[18.0,3],[18.19,3],[18.28,0],[18.37,-3],[18.55,1],[18.74,0],[19.02,1],[19.29,-1],[19.47,-6],[19.66,-10],[19.79,-13.5],[19.93,-5],[20.12,1],[20.21,7],[20.39,7],[20.58,7],[20.76,8],[20.85,7],[20.94,5],[21.04,0],[21.13,-3],[21.31,-8],[21.5,-3],[21.68,-3],[21.83,-6],[22.05,-3],[22.23,0],[22.42,1],[22.78,3],[22.97,5],[23.06,6.5],[23.24,3],[23.43,1],[23.61,-5],[23.8,-3],[24,1]];
const knyZ24 = [[0,0],[0.15,-2],[0.28,4],[0.37,0],[0.51,-2],[0.7,-4],[0.85,-6],[0.98,-2],[1.12,3],[1.21,1],[1.31,10],[1.4,14],[1.49,16.5],[1.58,13],[1.65,5],[1.73,-1],[1.8,-5],[1.89,-8],[1.99,-5],[2.08,-6],[2.17,-12],[2.26,-13],[2.39,-17],[2.5,-20.5],[2.59,-12],[2.72,-5],[2.87,-4],[2.96,-7],[3.09,-5],[3.23,0],[3.36,2],[3.45,-2],[3.55,2],[3.64,8],[3.73,5],[3.82,10],[3.91,-3],[4.0,-1],[4.1,-3],[4.28,14.5],[4.37,3],[4.47,-2],[4.56,-5],[4.65,-7],[4.74,-4],[4.83,-7],[4.93,-5],[5.11,-1],[5.29,0],[5.51,6.5],[5.66,3],[5.85,0],[6.03,-1],[6.3,0],[6.49,2],[6.58,5],[6.76,3],[6.95,0],[7.13,-3],[7.32,0],[7.5,3],[7.68,5],[7.78,0],[7.96,0],[8.14,2],[8.42,0],[8.6,-1],[8.97,-2],[9.34,-4],[9.61,-6],[9.8,-3],[10.07,0],[10.35,5],[10.53,3],[10.81,-1],[11.17,2],[11.54,4],[11.9,1],[11.95,0],[12.12,-3],[12.3,-3],[12.58,-5],[12.76,-4],[12.95,0],[13.22,1],[13.59,0],[13.86,0],[14.32,2],[14.7,-3],[14.88,2.5],[15.24,1],[15.61,4],[15.89,2],[16.16,0],[16.53,1],[16.9,2],[17.27,0],[17.8,0.5],[18.4,-0.5],[19.0,0.5],[19.6,0],[20.2,-0.5],[20.8,0.5],[21.4,0],[22.05,-2],[22.33,4],[22.6,2],[22.75,8.5],[22.88,0],[23.06,2],[23.34,3],[23.61,1],[23.89,-2],[24,0]];
const knyZ25 = [[0,-2],[0.33,-3],[0.6,-3],[0.88,0],[1.43,1],[1.99,-1],[2.72,-2],[3.2,0],[4.0,0],[4.5,-0.5],[5.0,0],[6.58,-1],[6.9,0],[7.13,-1],[8.42,1],[9.0,0],[10.0,0],[11.0,1],[12.0,0],[12.5,-0.5],[13.22,-1],[13.96,4],[14.14,3],[14.7,-1],[15.2,0],[16.35,2],[17.27,-1],[17.82,2],[18.1,-3],[18.6,0],[19.5,1],[20.12,3.5],[20.3,0],[20.58,-3],[21.31,0],[21.86,-2],[22.78,1],[23.5,0],[24,1]];
const knyZ26 = [[0,1],[0.5,0.5],[1.0,0],[1.5,1],[2.0,0],[2.5,0.5],[3.0,0],[3.5,-0.5],[4.0,0.5],[4.5,0],[5.0,-0.5],[5.5,0.5],[6.0,0],[6.5,0.5],[7.0,0],[7.5,-0.5],[8.0,0.5],[8.42,1],[9.0,0],[9.61,-1],[10.2,0],[10.8,0.5],[11.3,0],[11.6,-2],[11.9,-5],[11.99,-4],[12.12,0],[12.3,3],[12.4,9],[12.5,10.5],[12.58,7],[12.76,2],[13.04,-3],[13.4,-2],[13.77,-1],[14.32,0],[14.88,0],[15.43,2],[15.61,0],[16.16,-1],[16.72,1],[17.08,4],[17.27,0],[17.63,-1],[18.37,3.5],[18.55,0],[19.1,-2],[19.47,-4.5],[19.84,-2],[20.39,0],[20.94,0],[22.05,0],[22.78,1],[23.52,0],[24,0]];

// y tick values per panel
const mmbXTicks = [-60, -40, -20, 0, 20, 40];
const mmbYTicks = [-40, -30, -20, -10, 0, 10, 20, 30];
const mmbZTicks = [-15, -10, -5, 0, 5, 10];
const knyXTicks = [-40, -30, -20, -10, 0, 10, 20, 30];
const knyYTicks = [-30, -20, -10, 0, 10, 20];
const knyZTicks = [-25, -20, -15, -10, -5, 0, 5, 10, 15];

// ---- drawing ----
const SERIF = '"Liberation Serif", "Times New Roman", serif';
const AXIS_GRAY = '#a3a3a3';

function toPoints(arr) {
  if (typeof arr[0] === 'number') {
    return arr.map((v, i) => ({ x: i * 24 / (arr.length - 1), y: v }));
  }
  return arr.map(p => ({ x: p[0], y: p[1] }));
}

function hhmm(v) {
  return String(v).padStart(2, '0') + ':00';
}

// axes box with inward tick marks on all four sides, drawn over the traces
const boxTicks = {
  id: 'boxTicks',
  afterDatasetsDraw(chart) {
    const { ctx, chartArea: a } = chart;
    const xs = chart.scales.x, ys = chart.scales.y;
    const len = 4;
    ctx.save();
    ctx.strokeStyle = AXIS_GRAY;
    ctx.lineWidth = 1;
    ctx.beginPath();
    xs.ticks.forEach(t => {
      const px = Math.round(xs.getPixelForValue(t.value)) + 0.5;
      ctx.moveTo(px, a.bottom); ctx.lineTo(px, a.bottom - len);
      ctx.moveTo(px, a.top); ctx.lineTo(px, a.top + len);
    });
    ys.ticks.forEach(t => {
      const py = Math.round(ys.getPixelForValue(t.value)) + 0.5;
      ctx.moveTo(a.left, py); ctx.lineTo(a.left + len, py);
      ctx.moveTo(a.right, py); ctx.lineTo(a.right - len, py);
    });
    ctx.stroke();
    ctx.strokeRect(Math.round(a.left) + 0.5, Math.round(a.top) + 0.5,
                   Math.round(a.width) - 1, Math.round(a.height) - 1);
    ctx.restore();
  }
};

// boxed legend just to the right of the axes
const sideLegend = {
  id: 'sideLegend',
  afterDraw(chart) {
    const { ctx, chartArea: a } = chart;
    const sets = chart.data.datasets;
    ctx.save();
    ctx.font = '11px ' + SERIF;
    let tw = 0;
    sets.forEach(d => { tw = Math.max(tw, ctx.measureText(d.label).width); });
    const left = Math.round(a.right) + 2.5, top = Math.round(a.top) + 1.5;
    const rowH = 11.5;
    const w = Math.round(17 + tw + 3), h = Math.round(rowH * sets.length + 7);
    ctx.fillStyle = '#fff';
    ctx.fillRect(left, top, w, h);
    ctx.strokeStyle = AXIS_GRAY;
    ctx.lineWidth = 1;
    ctx.strokeRect(left, top, w, h);
    ctx.textBaseline = 'middle';
    sets.forEach((d, i) => {
      const cy = top + 9 + i * rowH;
      ctx.strokeStyle = d.borderColor;
      ctx.lineWidth = 1.4;
      ctx.beginPath();
      ctx.moveTo(left + 3, cy); ctx.lineTo(left + 15, cy);
      ctx.stroke();
      ctx.fillStyle = '#1a1a1a';
      ctx.fillText(d.label, left + 16, cy + 0.5);
    });
    ctx.restore();
  }
};

function makePanel(id, series, yMin, yMax, yTicks, opts) {
  const datasets = series.map((s, i) => ({
    label: dayLabels[i],
    data: toPoints(s),
    borderColor: dayColors[i],
    backgroundColor: dayColors[i],
    borderWidth: 1.4,
    pointRadius: 0,
    tension: 0,
    fill: false,
    order: series.length - i
  }));
  return new Chart(document.getElementById(id), {
    type: 'line',
    data: { datasets },
    plugins: [boxTicks, sideLegend],
    options: {
      responsive: false,
      animation: false,
      devicePixelRatio: 1,
      parsing: false,
      layout: { padding: { top: 8, right: opts.padRight, left: 0, bottom: 0 } },
      plugins: { legend: { display: false }, tooltip: { enabled: false } },
      events: [],
      scales: {
        x: {
          type: 'linear', min: 0, max: 24,
          afterBuildTicks: s => { s.ticks = hourTicks.map(v => ({ value: v })); },
          afterFit: s => { s.height = opts.xHeight; s.paddingLeft = 0; s.paddingRight = 0; },
          grid: { display: false, drawTicks: false },
          border: { display: false },
          ticks: {
            display: opts.showX, autoSkip: false, maxRotation: 0, padding: 3,
            color: '#262626', font: { family: SERIF, size: 13 },
            callback: v => hhmm(v)
          }
        },
        y: {
          type: 'linear', min: yMin, max: yMax,
          afterBuildTicks: s => { s.ticks = yTicks.map(v => ({ value: v })); },
          afterFit: s => { s.width = opts.yWidth; s.paddingTop = 0; s.paddingBottom = 0; },
          grid: { display: false, drawTicks: false },
          border: { display: false },
          ticks: {
            padding: 4, color: '#262626', font: { family: SERIF, size: 13 },
            callback: v => String(v).replace('-', '\u2212')
          }
        }
      }
    }
  });
}

const leftTop = { padRight: 58, yWidth: 48, xHeight: 4, showX: false };
const leftBot = { padRight: 58, yWidth: 48, xHeight: 32, showX: true };
const rightTop = { padRight: 51, yWidth: 52, xHeight: 4, showX: false };
const rightBot = { padRight: 51, yWidth: 52, xHeight: 32, showX: true };

makePanel('mmbX', [mmbX20, mmbX21, mmbX22, mmbX23, mmbX24, mmbX25, mmbX26], -60, 60, mmbXTicks, leftTop);
makePanel('mmbY', [mmbY20, mmbY21, mmbY22, mmbY23, mmbY24, mmbY25, mmbY26], -40, 40, mmbYTicks, leftTop);
makePanel('mmbZ', [mmbZ20, mmbZ21, mmbZ22, mmbZ23, mmbZ24, mmbZ25, mmbZ26], -15, 15, mmbZTicks, leftBot);
makePanel('knyX', [knyX20, knyX21, knyX22, knyX23, knyX24, knyX25, knyX26], -40, 40, knyXTicks, rightTop);
makePanel('knyY', [knyY20, knyY21, knyY22, knyY23, knyY24, knyY25, knyY26], -30, 30, knyYTicks, rightTop);
makePanel('knyZ', [knyZ20, knyZ21, knyZ22, knyZ23, knyZ24, knyZ25, knyZ26], -25, 20, knyZTicks, rightBot);
</script>
</body>
</html>
